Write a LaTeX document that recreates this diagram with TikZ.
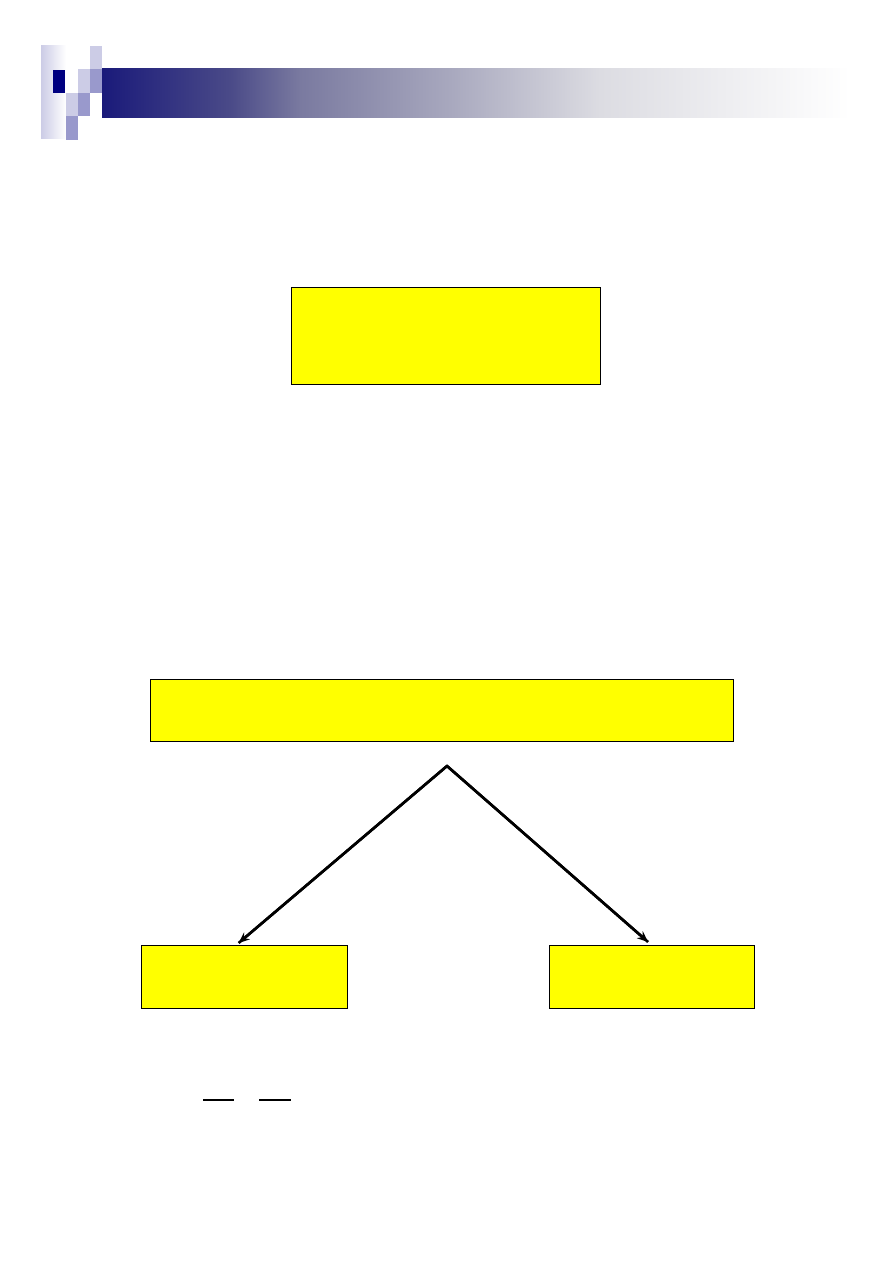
\documentclass[tikz,border=0pt]{standalone}
\usetikzlibrary{arrows.meta,positioning,calc}
\definecolor{navy}{RGB}{0,0,128}
\definecolor{barnavy}{RGB}{26,26,122}
\definecolor{barc1}{RGB}{74,74,136}
\definecolor{barc2}{RGB}{122,122,160}
\definecolor{barc3}{RGB}{168,168,190}
\definecolor{barc4}{RGB}{220,220,226}
\definecolor{lav}{RGB}{204,204,230}
\definecolor{medlav}{RGB}{153,153,204}
\definecolor{boxyellow}{RGB}{255,255,0}
\pgfdeclarehorizontalshading{barshade}{100bp}{color(0bp)=(barnavy); color(25bp)=(barnavy); color(33.55bp)=(barc1); color(38.25bp)=(barc2); color(48.25bp)=(barc3); color(58.3bp)=(barc4); color(75bp)=(white); color(100bp)=(white)}
\begin{document}
\begin{tikzpicture}[x=1pt,y=-1pt,
  ybox/.style={draw=black,line width=1.2pt,fill=boxyellow,inner sep=0pt,anchor=north west},
  arr/.style={line width=2.6pt,-{Stealth[length=11pt,width=9pt]}},
  fracbar/.style={line width=2pt}]
\useasboundingbox (0,0) rectangle (893,1263);
\fill[white] (0,0) rectangle (893,1263);
% header decoration
\shade[shading=barshade] (102,69) rectangle (850,117);
\shade[left color=lav,right color=white] (41,46) rectangle (66,138);
\fill[lav] (90,46) rectangle (102,69);
\fill[navy] (53,70) rectangle (65,93);
\fill[lav] (78,69) rectangle (90,93);
\fill[medlav] (90,69) rectangle (102,93);
\fill[lav] (66,93) rectangle (78,116);
\fill[medlav] (78,93) rectangle (90,116);
\fill[medlav] (66,116) rectangle (78,140);
% boxes
\node[ybox,minimum width=309pt,minimum height=97pt] (b1) at (291,287) {};
\node[ybox,minimum width=583pt,minimum height=62pt] (b2) at (150,679) {};
\node[ybox,minimum width=206pt,minimum height=63pt] (b3) at (141,945) {};
\node[ybox,minimum width=205pt,minimum height=63pt] (b4) at (549,945) {};
% arrows
\coordinate (apex) at (447,766);
\draw[line width=2.6pt,line join=miter] ([xshift=-6pt,yshift=2pt]b3.north) -- (apex) -- ([xshift=-4pt,yshift=3pt]b4.north);
\draw[arr] (apex) -- ([xshift=-6pt,yshift=2pt]b3.north);
\draw[arr] (apex) -- ([xshift=-4pt,yshift=3pt]b4.north);
% fraction bars
\coordinate (f1a) at (203,1100);
\coordinate (f1b) at (234,1100);
\coordinate (f2a) at (259,1100);
\coordinate (f2b) at (291,1100);
\draw[fracbar] (f1a) -- (f1b);
\draw[fracbar] (f2a) -- (f2b);
\end{tikzpicture}
\end{document}
